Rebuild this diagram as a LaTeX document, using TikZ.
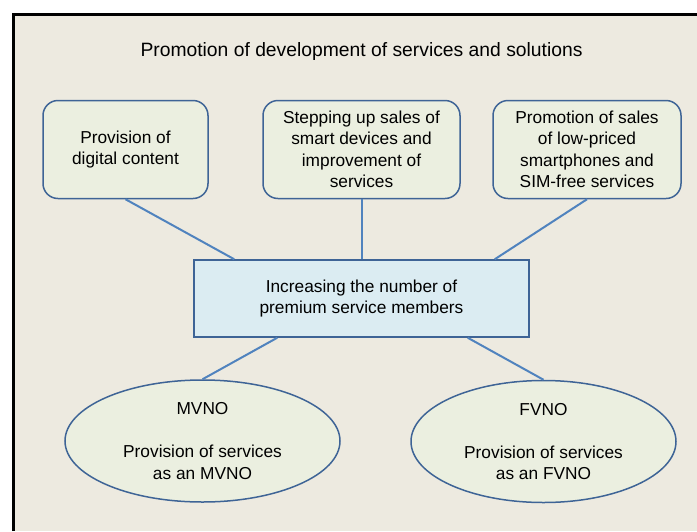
\documentclass[tikz,border=0pt]{standalone}
\usepackage{fontspec}
\setmainfont{Liberation Sans}
\usepackage{tikz}
\usetikzlibrary{positioning,shapes.geometric}

\definecolor{pagebg}{HTML}{EDEAE0}
\definecolor{boxfill}{HTML}{EBEFE0}
\definecolor{rectfill}{HTML}{DBECF2}
\definecolor{edgeblue}{HTML}{3E6496}
\definecolor{linkblue}{HTML}{5083BE}

\begin{document}
\begin{tikzpicture}[x=1pt,y=-1pt,
        every node/.style={font=\fontsize{17.3}{21.5}\selectfont,align=center,inner sep=0pt},
        measure/.style={draw=edgeblue,line width=1.5pt,fill=boxfill,rounded corners=15pt,
            minimum height=98pt},
        target/.style={draw=edgeblue,line width=1.5pt,fill=rectfill,
            minimum width=335pt,minimum height=77pt},
        mode/.style={ellipse,draw=edgeblue,line width=1.5pt,fill=boxfill,minimum height=122pt},
        link/.style={draw=linkblue,line width=2pt}]
        \useasboundingbox (0,0) rectangle (697,531);
        \fill[pagebg] (13,14) rectangle (697,531);
        \draw[line width=3pt] (13,531) -- (13,14) -- (697,14);
        % title
        \node[font=\fontsize{19.3}{23}\selectfont] (title) at (361.5,52)
            {Promotion of development of services and solutions};
        % measures
        \node[measure,minimum width=165pt] (content) at (125.5,149.5)
            {Provision of\\digital content};
        \node[measure,minimum width=197pt] (devices) at (361.5,149.5)
            {Stepping up sales of\\smart devices and\\improvement of\\services};
        \node[measure,minimum width=188pt] (simfree) at (587,149.5)
            {Promotion of sales\\of low-priced\\smartphones and\\SIM-free services};
        % goal
        \node[target] (members) at (361.5,298.5)
            {Increasing the number of\\premium service members};
        % operators
        \node[mode,minimum width=275pt] (mvno) at (202.5,441)
            {MVNO\\[21.5pt]Provision of services\\as an MVNO};
        \node[mode,minimum width=265pt] (fvno) at (543.5,441.5)
            {FVNO\\[21.5pt]Provision of services\\as an FVNO};
        \draw[link] (content.south) -- ([xshift=41pt]members.north west);
        \draw[link] ([xshift=0.5pt]devices.south) -- ([xshift=0.5pt]members.north);
        \draw[link] (simfree.south) -- ([xshift=-35pt]members.north east);
        \draw[link] ([xshift=84pt]members.south west) -- (mvno.north);
        \draw[link] ([xshift=-62pt]members.south east) -- (fvno.north);
\end{tikzpicture}
\end{document}
